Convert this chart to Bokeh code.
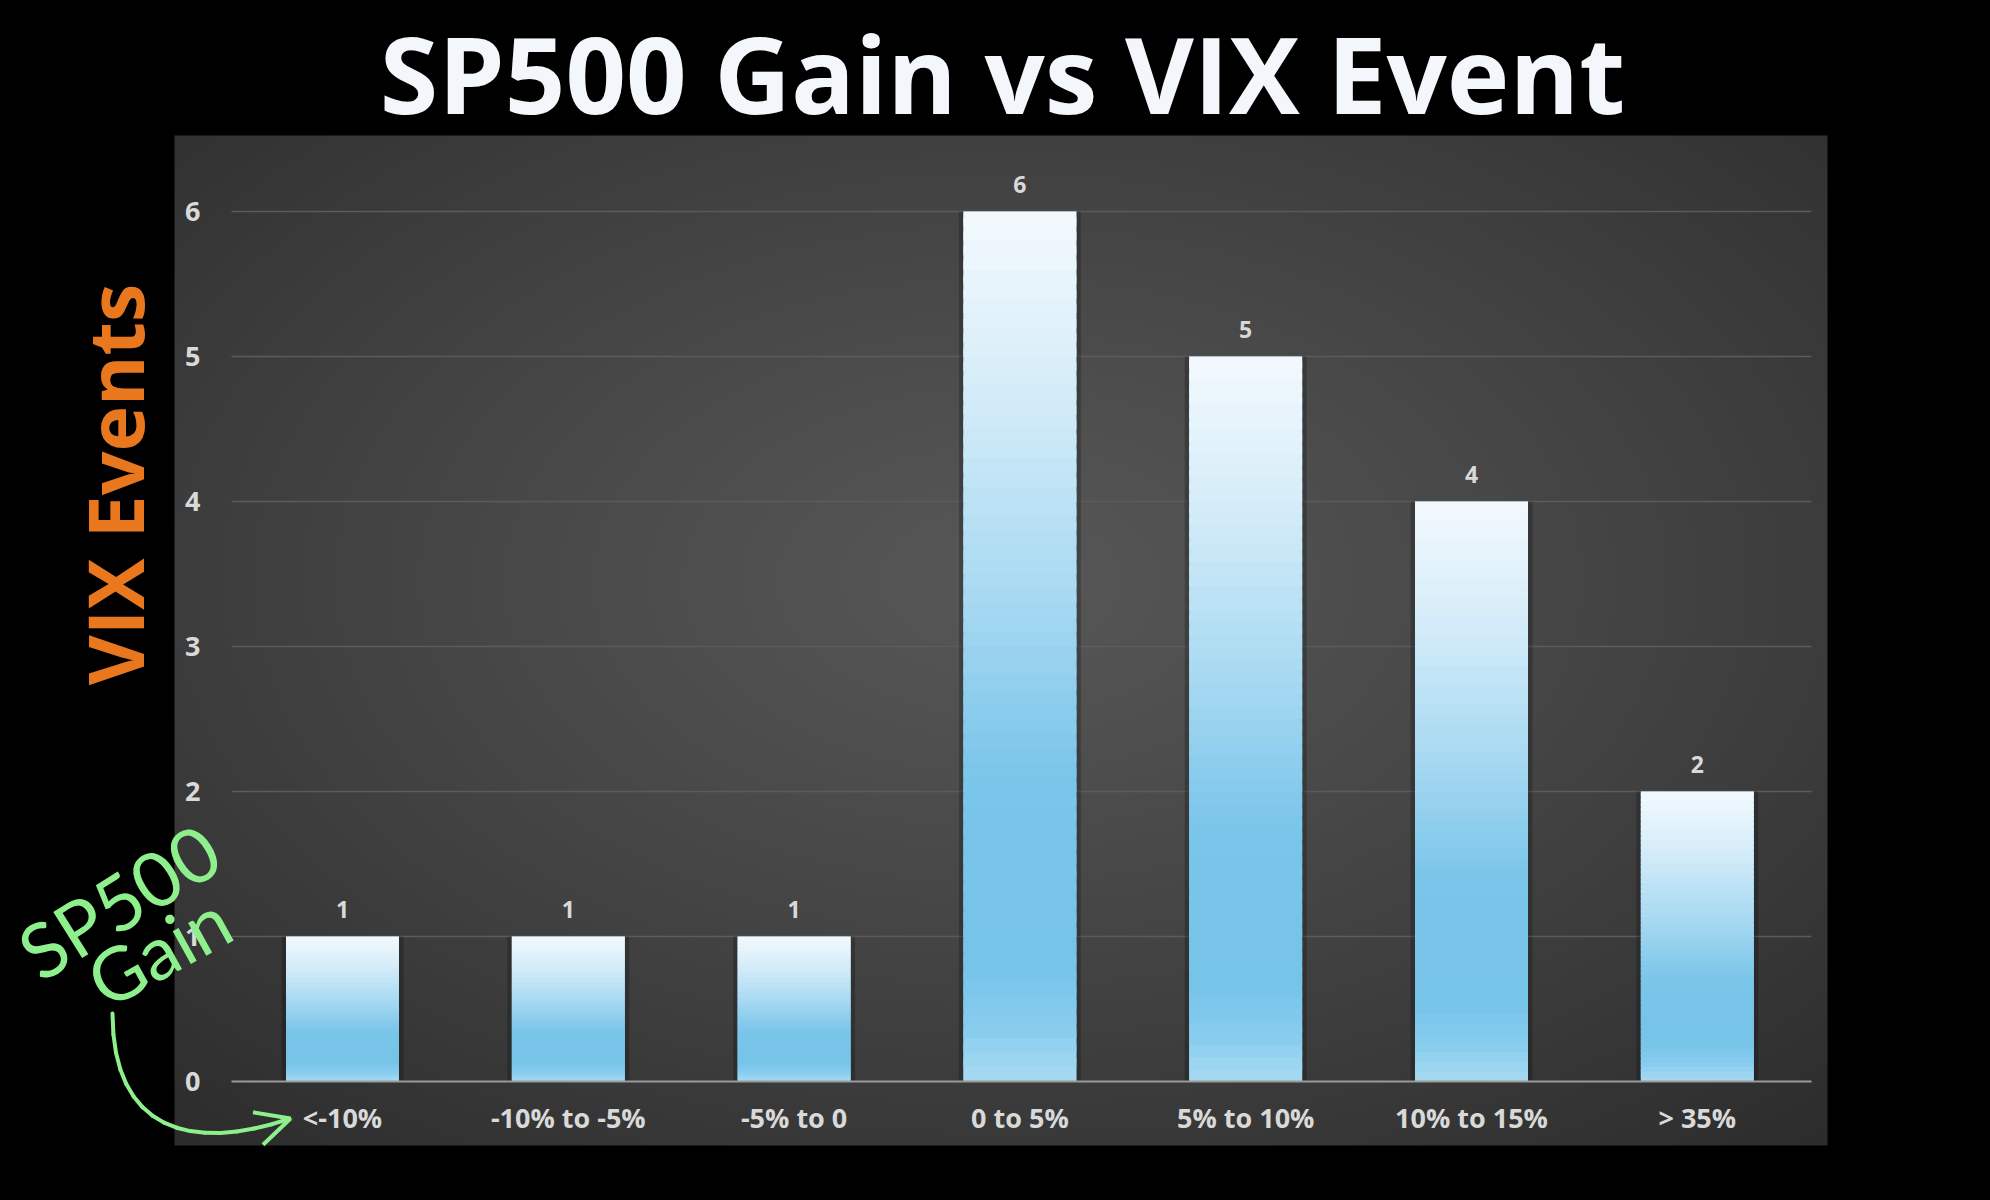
import numpy as np
from bokeh.plotting import figure
from bokeh.models import (ColumnDataSource, FixedTicker, Label, Arrow, OpenHead,
                          Range1d, GlobalInlineStyleSheet)
from bokeh.core.properties import value
from bokeh.embed import file_html
from bokeh.resources import INLINE

# ---------------- data ----------------
categories = ["<-10%", "-10% to -5%", "-5% to 0", "0 to 5%", "5% to 10%", "10% to 15%", "> 35%"]
vix_events = [1, 1, 1, 6, 5, 4, 2]
y_ticks = [0, 1, 2, 3, 4, 5, 6]
title_text = "SP500 Gain vs VIX Event"
y_title = "VIX Events"
x_note = ["SP500", "Gain"]

# ---------------- layout constants (pixels on the page) ----------------
W, H = 1974, 1184
PANEL_L, PANEL_R, PANEL_T, PANEL_B = 174, 1827, 135, 1145
X0, SX = 342.0, 225.8       # px of category 0, px per category
Y0, SY = 1081.0, 145.0      # px of value 0, px per unit


def dx(px):
    return (px - X0) / SX


def dy(py):
    return (Y0 - py) / SY


p = figure(width=W, height=H, output_backend="svg", toolbar_location=None,
           x_range=Range1d(dx(0), dx(W)), y_range=Range1d(dy(H), dy(0)),
           min_border_left=0, min_border_right=0, min_border_top=0, min_border_bottom=0,
           background_fill_color="#000000", border_fill_color="#000000")
p.outline_line_color = None
p.title.visible = False
p.xgrid.visible = False
p.ygrid.visible = False
p.stylesheets = [GlobalInlineStyleSheet(css="body{background:#000000;}")]

# ---------------- panel with radial gradient ----------------
ny, nx = 337, 551
yy, xx = np.mgrid[0:ny, 0:nx]
u = (xx + 0.5) / nx * 2 - 1
v = (yy + 0.5) / ny * 2 - 1 - 0.12
r = np.sqrt((u ** 2 + v ** 2) / 2)
g = np.clip(87 - 40 * r ** 1.15, 0, 255).astype(np.uint8)
img = np.empty((ny, nx), dtype=np.uint32)
view = img.view(dtype=np.uint8).reshape((ny, nx, 4))
view[..., 0] = g
view[..., 1] = g
view[..., 2] = g
view[..., 3] = 255
p.image_rgba(image=[img], x=dx(PANEL_L), y=dy(PANEL_B),
             dw=dx(PANEL_R) - dx(PANEL_L), dh=dy(PANEL_T) - dy(PANEL_B), level="image")

# ---------------- grid lines ----------------
grid_x0, grid_x1 = dx(231), dx(1811)
grid_vals = [t for t in y_ticks if t > 0]
p.segment(x0=grid_x0, y0=grid_vals, x1=grid_x1, y1=grid_vals,
          line_color="#5b5b5b", line_width=1.5)

# ---------------- bars ----------------
idx = list(range(len(categories)))
src = ColumnDataSource(dict(x=idx, top=vix_events, cat=categories,
                            label=[str(v) for v in vix_events]))
p.vbar(x="x", top="top", bottom=0, width=0.54, source=src,
       fill_color="#000000", fill_alpha=0.22, line_color=None)
p.vbar(x="x", top="top", bottom=0, width=0.5, source=src,
       fill_color="#7cc6ea", line_color=None)

# vertical gradient inside each bar
stops_t = [0.0, 0.06, 0.13, 0.35, 0.55, 0.8, 1.0]
stops_c = ["#a8daf2", "#88cdee", "#77c4e9", "#7ac5ea", "#a6d8f1", "#d6edf9", "#f3f9fe"]
stops_rgb = np.array([[int(c[i:i + 2], 16) for i in (1, 3, 5)] for c in stops_c], dtype=float)
N = 60
gl, gr, gb, gt, gc = [], [], [], [], []
for xi, val in zip(idx, vix_events):
    for k in range(N):
        t = (k + 0.5) / N
        rgb = [np.interp(t, stops_t, stops_rgb[:, ch]) for ch in range(3)]
        gl.append(xi - 0.25)
        gr.append(xi + 0.25)
        gb.append(val * k / N)
        gt.append(val * (k + 1.6) / N if k < N - 1 else val)
        gc.append("#%02x%02x%02x" % tuple(int(round(c)) for c in rgb))
p.quad(left=gl, right=gr, bottom=gb, top=gt, fill_color=gc, line_color=None)

# value labels
p.text(x="x", y="top", text="label", source=src, text_align="center",
       text_baseline="alphabetic", y_offset=-27, text_font=value("Open Sans"),
       text_font_style="bold", text_font_size="23px", text_color="#d9d9d9")

# ---------------- axes ----------------
p.xaxis.ticker = FixedTicker(ticks=idx)
p.xaxis.major_label_overrides = {i: c for i, c in enumerate(categories)}
p.xaxis.fixed_location = 0
p.xaxis.bounds = (grid_x0, grid_x1)
p.xaxis.axis_line_color = "#9a9a9a"
p.xaxis.axis_line_width = 2
p.xaxis.major_tick_line_color = None
p.xaxis.minor_tick_line_color = None
p.xaxis.major_label_text_font = "Open Sans"
p.xaxis.major_label_text_font_style = "bold"
p.xaxis.major_label_text_font_size = "27px"
p.xaxis.major_label_text_color = "#d9d9d9"
p.xaxis.major_label_standoff = 11

p.yaxis.ticker = FixedTicker(ticks=y_ticks)
p.yaxis.fixed_location = dx(212)
p.yaxis.axis_line_color = None
p.yaxis.major_tick_line_color = None
p.yaxis.minor_tick_line_color = None
p.yaxis.major_label_text_font = "Open Sans"
p.yaxis.major_label_text_font_style = "bold"
p.yaxis.major_label_text_font_size = "27px"
p.yaxis.major_label_text_color = "#d9d9d9"
p.yaxis.major_label_standoff = 6

# ---------------- texts ----------------
p.add_layout(Label(x=dx(1002), y=dy(72), text=title_text, text_align="center",
                   text_baseline="alphabetic", text_font="Open Sans",
                   text_font_style="bold", text_font_size="106px", text_color="#f3f7fc"))
p.add_layout(Label(x=dx(114), y=dy(484), text=y_title, angle=90, angle_units="deg",
                   text_align="center", text_baseline="alphabetic", text_font="Open Sans",
                   text_font_style="bold", text_font_size="77px", text_color="#e8771e"))

GREEN = "#8ef08c"
p.add_layout(Label(x=dx(118), y=dy(900), text=x_note[0], angle=32, angle_units="deg",
                   text_align="center", text_baseline="middle", text_font="Lato",
                   text_font_size="76px", text_color=GREEN))
p.add_layout(Label(x=dx(158), y=dy(949), text=x_note[1], angle=29, angle_units="deg",
                   text_align="center", text_baseline="middle", text_font="Lato",
                   text_font_size="74px", text_color=GREEN))

# curved arrow (cubic bezier approximated by segments)
P = np.array([[112, 1013], [112, 1130], [190, 1152], [290, 1118]], dtype=float)
ts = np.linspace(0, 1, 17)
pts = [((1 - t) ** 3) * P[0] + 3 * ((1 - t) ** 2) * t * P[1] + 3 * (1 - t) * t ** 2 * P[2] + t ** 3 * P[3]
       for t in ts]
for k in range(len(pts) - 1):
    a, b = pts[k], pts[k + 1]
    head = OpenHead(size=34, line_color=GREEN, line_width=4) if k == len(pts) - 2 else None
    p.add_layout(Arrow(end=head, x_start=dx(a[0]), y_start=dy(a[1]),
                       x_end=dx(b[0]), y_end=dy(b[1]),
                       line_color=GREEN, line_width=4, line_cap="round"))

open("out.html", "w").write(file_html(p, INLINE))
